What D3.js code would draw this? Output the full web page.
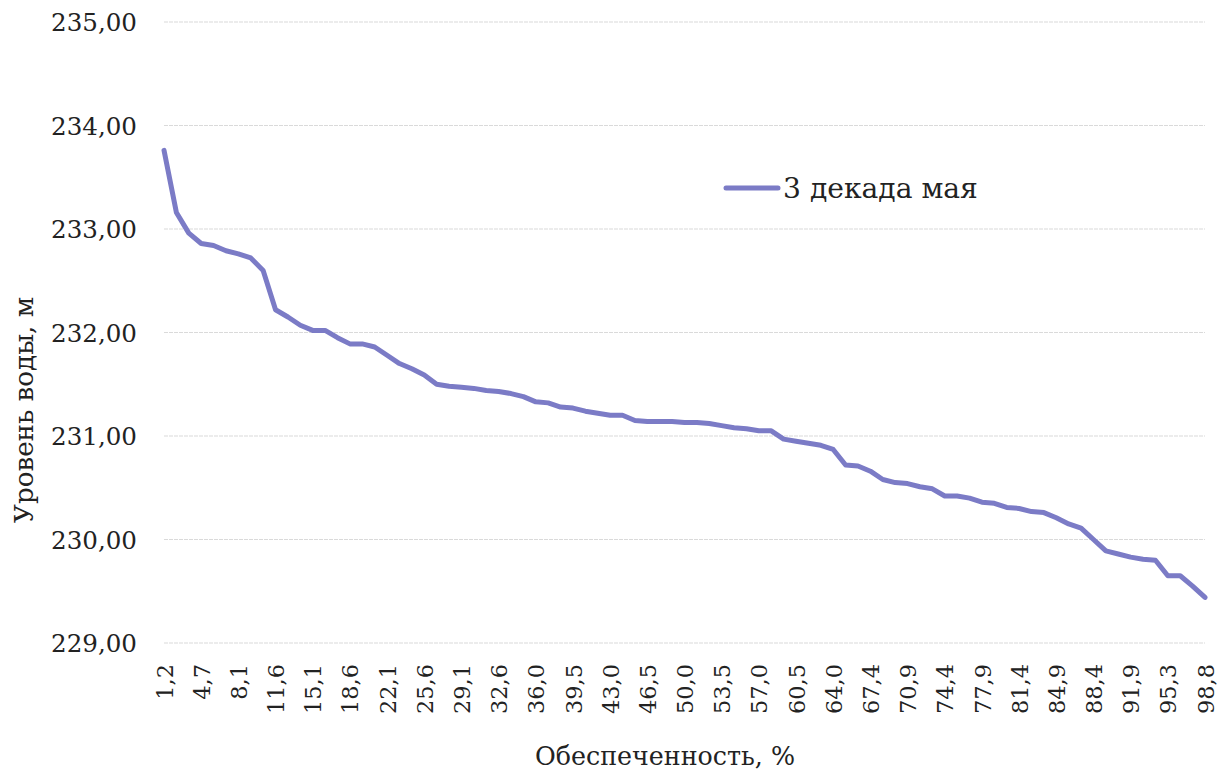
<!DOCTYPE html>
<html>
<head>
<meta charset="utf-8">
<script src="https://cdn.jsdelivr.net/npm/d3@7"></script>
<style>
  html, body { margin: 0; padding: 0; background: #ffffff; }
  svg { display: block; }
</style>
</head>
<body>
<svg id="chart" width="1226" height="774"></svg>
<script>
// Categories: обеспеченность, %
const categories = [
  "1,2","2,3","3,5","4,7","5,8","7,0","8,1","9,3","10,5","11,6",
  "12,8","14,0","15,1","16,3","17,4","18,6","19,8","20,9","22,1","23,3",
  "24,4","25,6","26,7","27,9","29,1","30,2","31,4","32,6","33,7","34,9",
  "36,0","37,2","38,4","39,5","40,7","41,9","43,0","44,2","45,3","46,5",
  "47,7","48,8","50,0","51,2","52,3","53,5","54,7","55,8","57,0","58,1",
  "59,3","60,5","61,6","62,8","64,0","65,1","66,3","67,4","68,6","69,8",
  "70,9","72,1","73,3","74,4","75,6","76,7","77,9","79,1","80,2","81,4",
  "82,6","83,7","84,9","86,0","87,2","88,4","89,5","90,7","91,9","93,0",
  "94,2","95,3","96,5","97,7","98,8"
];

// Series: 3 декада мая — уровень воды, м
const seriesName = "3 декада мая";
const levels = [
  233.76, 233.16, 232.96, 232.86, 232.84, 232.79, 232.76, 232.72, 232.60, 232.22,
  232.15, 232.07, 232.02, 232.02, 231.95, 231.89, 231.89, 231.86, 231.78, 231.70,
  231.65, 231.59, 231.50, 231.48, 231.47, 231.46, 231.44, 231.43, 231.41, 231.38,
  231.33, 231.32, 231.28, 231.27, 231.24, 231.22, 231.20, 231.20, 231.15, 231.14,
  231.14, 231.14, 231.13, 231.13, 231.12, 231.10, 231.08, 231.07, 231.05, 231.05,
  230.97, 230.95, 230.93, 230.91, 230.87, 230.72, 230.71, 230.66, 230.58, 230.55,
  230.54, 230.51, 230.49, 230.42, 230.42, 230.40, 230.36, 230.35, 230.31, 230.30,
  230.27, 230.26, 230.21, 230.15, 230.11, 230.00, 229.89, 229.86, 229.83, 229.81,
  229.80, 229.65, 229.65, 229.55, 229.44
];

// Axis ticks
const yTicks = [229, 230, 231, 232, 233, 234, 235];
const xTickLabels = categories.filter((d, i) => i % 3 === 0);

const xTitle = "Обеспеченность, %";
const yTitle = "Уровень воды, м";

const FONT = '"DejaVu Serif", serif';
const INK = "#222";
const LINE_COLOR = "#7b7bc6";

const svg = d3.select("#chart");
const plot = { left: 164, right: 1205, top: 22, bottom: 643 };

const x = d3.scalePoint().domain(categories).range([plot.left, plot.right]);
const y = d3.scaleLinear().domain([229, 235]).range([plot.bottom, plot.top]);

// scale a text's font size so that its rendered width matches a target width
function fitFont(sel, startSize, targetWidth) {
  sel.attr("font-size", startSize);
  const w = sel.node().getComputedTextLength();
  const size = startSize * targetWidth / w;
  return size;
}

// Gridlines
svg.append("g").selectAll("line").data(yTicks).join("line")
  .attr("x1", plot.left).attr("x2", plot.right)
  .attr("y1", d => y(d)).attr("y2", d => y(d))
  .attr("stroke", "#dadada").attr("stroke-width", 1.2).attr("stroke-dasharray", "4,1");

// Y axis labels
const fmt = d => d3.format(".2f")(d).replace(".", ",");
const yg = svg.append("g").attr("transform", "translate(137,0)")
  .call(d3.axisLeft(y).tickValues(yTicks).tickFormat(fmt).tickSize(0).tickPadding(0));
yg.attr("font-family", null).attr("font-size", null);
yg.select(".domain").remove();
const yTexts = yg.selectAll("text").attr("font-family", FONT).attr("fill", INK).attr("dy", "0.36em");
const ySize = fitFont(d3.select(yTexts.nodes()[0]), 25, 86);
yTexts.attr("font-size", ySize);

// X axis labels
const xg = svg.append("g").attr("transform", `translate(0,${plot.bottom})`)
  .call(d3.axisBottom(x).tickValues(xTickLabels).tickSize(0).tickPadding(0));
xg.attr("font-family", null).attr("font-size", null);
xg.select(".domain").remove();
const xTexts = xg.selectAll("text").attr("font-family", FONT).attr("fill", INK)
  .attr("text-anchor", "end").attr("transform", "rotate(-90)")
  .attr("x", -21).attr("y", 0).attr("dy", "0.36em");
const xSize = fitFont(d3.select(xTexts.nodes()[3]), 23, 50);
xTexts.attr("font-size", xSize);

// Line
svg.append("path").datum(levels)
  .attr("fill", "none").attr("stroke", LINE_COLOR).attr("stroke-width", 5)
  .attr("stroke-linejoin", "round").attr("stroke-linecap", "round")
  .attr("d", d3.line().x((d, i) => x(categories[i])).y(d => y(d)));

// Legend
const lg = svg.append("g").attr("transform", "translate(726,188)");
lg.append("line").attr("x1", 0).attr("x2", 52).attr("y1", 0).attr("y2", 0)
  .attr("stroke", LINE_COLOR).attr("stroke-width", 5).attr("stroke-linecap", "round");
const lt = lg.append("text").attr("x", 57).attr("dy", "0.36em")
  .attr("font-family", FONT).attr("fill", INK).text(seriesName);
lt.attr("font-size", fitFont(lt, 28, 195));

// Axis titles
const xt = svg.append("text").attr("x", 665).attr("y", 765).attr("text-anchor", "middle")
  .attr("font-family", FONT).attr("fill", INK).text(xTitle);
xt.attr("font-size", fitFont(xt, 26, 260));

const yt = svg.append("text").attr("transform", "translate(33,410) rotate(-90)").attr("text-anchor", "middle")
  .attr("font-family", FONT).attr("fill", INK).text(yTitle);
yt.attr("font-size", fitFont(yt, 26, 226));
</script>
</body>
</html>
